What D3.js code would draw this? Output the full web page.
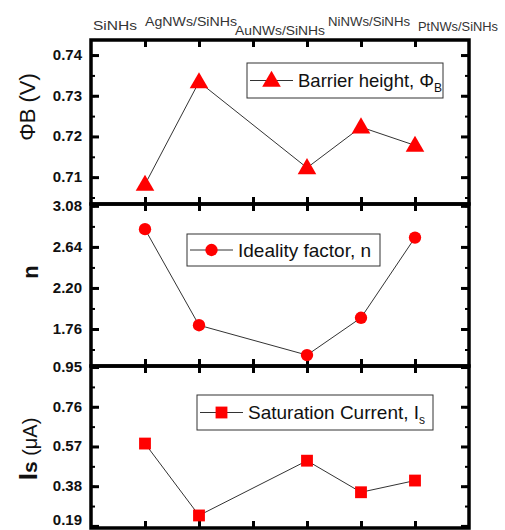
<!DOCTYPE html>
<html>
<head>
<meta charset="utf-8">
<script src="https://cdn.jsdelivr.net/npm/d3@7/dist/d3.min.js"></script>
<style>
  body { margin: 0; background: #fff; }
  text { font-family: "Liberation Sans", Arial, sans-serif; }
</style>
</head>
<body>
<div id="viz"></div>
<script>
// Data
var samples = ["SiNHs", "AgNWs/SiNHs", "AuNWs/SiNHs", "NiNWs/SiNHs", "PtNWs/SiNHs"];
var sampleX = [1, 2, 4, 5, 6];
var barrierHeight = [0.7082, 0.7334, 0.7123, 0.7223, 0.7178];
var idealityFactor = [2.83, 1.80, 1.48, 1.88, 2.74];
var satCurrent = [0.584, 0.240, 0.502, 0.351, 0.407];

var phiTicks = [0.71, 0.72, 0.73, 0.74];
var nTicks = [1.76, 2.20, 2.64, 3.08];
var isTicks = [0.19, 0.38, 0.57, 0.76, 0.95];

var width = 505, height = 530;
var left = 91, right = 469;

var svg = d3.select("#viz").append("svg")
    .attr("width", width)
    .attr("height", height);

var x = d3.scaleLinear().domain([0, 7]).range([left, right]);

// panel setup
var panels = [
  { top: 40, bottom: 204, domain: [0.7034, 0.7437], ticks: phiTicks, fmt: ".2f",
    values: barrierHeight, marker: d3.symbolTriangle, size: 150,
    legend: { x0: 247, y0: 63, w: 196, h: 35 }, name: "Barrier height, \u03A6", sub: "B", fs: 18.5 },
  { top: 204, bottom: 366, domain: [1.363, 3.10], ticks: nTicks, fmt: ".2f",
    values: idealityFactor, marker: d3.symbolCircle, size: 120,
    legend: { x0: 187, y0: 234, w: 193, h: 32 }, name: "Ideality factor, n", sub: "", fs: 19 },
  { top: 366, bottom: 528, domain: [0.18, 0.955], ticks: isTicks, fmt: ".2f",
    values: satCurrent, marker: d3.symbolSquare, size: 140,
    legend: { x0: 197, y0: 395, w: 236, h: 35 }, name: "Saturation Current, I", sub: "s", fs: 19 }
];

panels.forEach(function(p, pi) {
  var y = d3.scaleLinear().domain(p.domain).range([p.bottom, p.top]);
  var g = svg.append("g");

  // minor ticks halfway between majors
  var step = p.ticks[1] - p.ticks[0];
  var minor = [];
  for (var v = p.ticks[0] - step / 2; v <= p.domain[1]; v += step / 2) {
    if (v >= p.domain[0] && v <= p.domain[1]) minor.push(v);
  }

  // left axis (ticks inward)
  var yl = g.append("g").attr("transform", "translate(" + left + ",0)")
    .call(d3.axisRight(y).tickValues(minor).tickSize(4).tickFormat(""));
  yl.selectAll("line").attr("stroke", "#000").attr("stroke-width", 2);
  yl.select(".domain").remove();
  var ylm = g.append("g").attr("transform", "translate(" + left + ",0)")
    .call(d3.axisRight(y).tickValues(p.ticks).tickSize(8).tickFormat(""));
  ylm.selectAll("line").attr("stroke", "#000").attr("stroke-width", 3);
  ylm.select(".domain").remove();

  // right axis
  var yr = g.append("g").attr("transform", "translate(" + right + ",0)")
    .call(d3.axisLeft(y).tickValues(minor).tickSize(4).tickFormat(""));
  yr.selectAll("line").attr("stroke", "#000").attr("stroke-width", 2);
  yr.select(".domain").remove();
  var yrm = g.append("g").attr("transform", "translate(" + right + ",0)")
    .call(d3.axisLeft(y).tickValues(p.ticks).tickSize(8).tickFormat(""));
  yrm.selectAll("line").attr("stroke", "#000").attr("stroke-width", 3);
  yrm.select(".domain").remove();

  // tick labels
  g.selectAll(".tl").data(p.ticks).enter().append("text")
    .attr("x", left - 9)
    .attr("y", function(d) { return Math.min(y(d) + 5, 525); })
    .attr("text-anchor", "end")
    .attr("font-size", 15)
    .attr("font-weight", "bold")
    .attr("fill", "#111")
    .text(function(d) { return d3.format(p.fmt)(d); });

  // top / bottom x ticks
  var xt = g.append("g").attr("transform", "translate(0," + p.top + ")")
    .call(d3.axisBottom(x).tickValues([1, 2, 3, 4, 5, 6]).tickSize(7).tickFormat(""));
  xt.selectAll("line").attr("stroke", "#000").attr("stroke-width", 3);
  xt.select(".domain").remove();
  var xb = g.append("g").attr("transform", "translate(0," + p.bottom + ")")
    .call(d3.axisTop(x).tickValues([1, 2, 3, 4, 5, 6]).tickSize(7).tickFormat(""));
  xb.selectAll("line").attr("stroke", "#000").attr("stroke-width", 3);
  xb.select(".domain").remove();

  // frame
  g.append("rect")
    .attr("x", left).attr("y", p.top)
    .attr("width", right - left).attr("height", p.bottom - p.top)
    .attr("fill", "none").attr("stroke", "#000").attr("stroke-width", 3.5);

  // data line
  var pts = p.values.map(function(v, i) { return [x(sampleX[i]), y(v)]; });
  g.append("path")
    .attr("d", d3.line()(pts))
    .attr("fill", "none")
    .attr("stroke", "#333")
    .attr("stroke-width", 1);

  g.selectAll(".m").data(pts).enter().append("path")
    .attr("d", d3.symbol().type(p.marker).size(p.size))
    .attr("transform", function(d) { return "translate(" + d[0] + "," + (d[1] + (pi === 0 ? 1 : 0)) + ")"; })
    .attr("fill", "#f00");

  // legend
  var L = p.legend;
  g.append("rect")
    .attr("x", L.x0).attr("y", L.y0).attr("width", L.w).attr("height", L.h)
    .attr("fill", "#fff").attr("stroke", "#333").attr("stroke-width", 1);
  var cy = L.y0 + L.h / 2;
  g.append("line")
    .attr("x1", L.x0 + 3).attr("x2", L.x0 + 46)
    .attr("y1", cy).attr("y2", cy)
    .attr("stroke", "#333").attr("stroke-width", 1);
  g.append("path")
    .attr("d", d3.symbol().type(p.marker).size(p.size))
    .attr("transform", "translate(" + (L.x0 + 24.5) + "," + (cy + (pi === 0 ? 1 : 0)) + ")")
    .attr("fill", "#f00");
  var t = g.append("text")
    .attr("x", L.x0 + 51).attr("y", cy + 6.5)
    .attr("font-size", p.fs)
    .attr("fill", "#111")
    .text(p.name);
  if (p.sub) {
    t.append("tspan").attr("dy", 5).attr("font-size", 12).text(p.sub);
  }
});

// category labels on top
var labelPos = [
  { x: 93, y: 30, w: 44 }, { x: 145, y: 26, w: 92 }, { x: 235, y: 35, w: 90 },
  { x: 328, y: 26, w: 82 }, { x: 418, y: 31, w: 80 }
];
svg.selectAll(".cat").data(samples).enter().append("text")
  .attr("x", function(d, i) { return labelPos[i].x; })
  .attr("y", function(d, i) { return labelPos[i].y; })
  .attr("font-size", 13.5)
  .attr("fill", "#333")
  .attr("textLength", function(d, i) { return labelPos[i].w; })
  .attr("lengthAdjust", "spacingAndGlyphs")
  .text(function(d) { return d; });

// y titles
svg.append("text")
  .attr("transform", "translate(35,107) rotate(-90)")
  .attr("text-anchor", "middle")
  .attr("font-size", 22)
  .attr("fill", "#111")
  .text("\u03A6B (V)");

svg.append("text")
  .attr("transform", "translate(38,272) rotate(-90)")
  .attr("text-anchor", "middle")
  .attr("font-size", 22)
  .attr("font-weight", "bold")
  .attr("fill", "#111")
  .text("n");

var ist = svg.append("text")
  .attr("transform", "translate(37,449) rotate(-90)")
  .attr("text-anchor", "middle")
  .attr("fill", "#111");
ist.append("tspan").attr("font-size", 26).attr("font-weight", "bold").text("I");
ist.append("tspan").attr("font-size", 21).attr("font-weight", "bold").text("s");
ist.append("tspan").attr("font-size", 20).text(" (\u03BCA)");
</script>
</body>
</html>
